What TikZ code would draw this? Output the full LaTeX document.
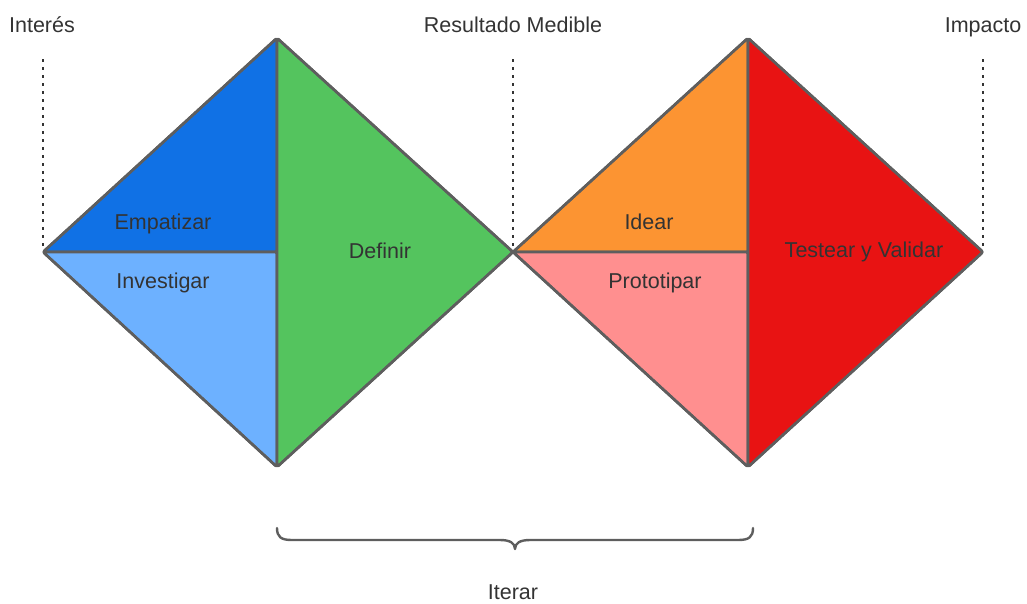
\documentclass[tikz,border=0pt]{standalone}
\usepackage{fontspec}
\setmainfont{Liberation Sans}
\definecolor{edgegray}{HTML}{5E5E5E}
\definecolor{textgray}{HTML}{333333}
\definecolor{empblue}{HTML}{1071E5}
\definecolor{invblue}{HTML}{6DB1FF}
\definecolor{defgreen}{HTML}{54C45E}
\definecolor{ideorange}{HTML}{FC9432}
\definecolor{propink}{HTML}{FF8F8F}
\definecolor{tesred}{HTML}{E81313}
\tikzset{
	piece/.style={draw=edgegray, line width=2.6pt, line join=round, rounded corners=2pt},
	lbl/.style={text=textgray, font=\fontsize{21.5}{25}\selectfont, inner sep=0pt, anchor=base},
	marker/.style={draw=textgray, line width=2.8pt, dash pattern=on 2.8pt off 5.2pt}
}
\begin{document}
\begin{tikzpicture}[x=1pt, y=-1pt]
		\useasboundingbox (0,0) rectangle (1027,603);

		% Corners of both diamonds
		\coordinate (L) at (43,252);
		\coordinate (LT) at (277,38);
		\coordinate (LC) at (277,252);
		\coordinate (LB) at (277,467);
		\coordinate (M) at (513,252);
		\coordinate (RT) at (748,38);
		\coordinate (RC) at (748,252);
		\coordinate (RB) at (748,467);
		\coordinate (R) at (983,252);

		% Dotted markers
		\foreach \x in {43, 513, 983} {
				\draw[marker] (\x,59) -- (\x,249);
			}

		% Left diamond
		\fill[piece, fill=empblue] (L) -- (LT) -- (LC) -- cycle;
		\fill[piece, fill=invblue] (L) -- (LC) -- (LB) -- cycle;
		\fill[piece, fill=defgreen] (LT) -- (M) -- (LB) -- cycle;
		\draw[piece] (L) -- (LT) -- (M) -- (LB) -- cycle;
		\draw[piece] (L) -- (LC);
		\draw[piece] (LT) -- (LB);

		% Right diamond
		\fill[piece, fill=ideorange] (M) -- (RT) -- (RC) -- cycle;
		\fill[piece, fill=propink] (M) -- (RC) -- (RB) -- cycle;
		\fill[piece, fill=tesred] (RT) -- (R) -- (RB) -- cycle;
		\draw[piece] (M) -- (RT) -- (R) -- (RB) -- cycle;
		\draw[piece] (M) -- (RC);
		\draw[piece] (RT) -- (RB);

		% Phase labels
		\node[lbl] (empatizar) at (163,229) {Empatizar};
		\node[lbl] (investigar) at (163,288) {Investigar};
		\node[lbl] (definir) at (380,258) {Definir};
		\node[lbl] (idear) at (649,229) {Idear};
		\node[lbl] (prototipar) at (655,288) {Prototipar};
		\node[lbl] (testear) at (864,257) {Testear y Validar};

		% Top labels
		\node[lbl] (interes) at (42,32) {Interés};
		\node[lbl] (resultado) at (513,32) {Resultado Medible};
		\node[lbl] (impacto) at (983,32) {Impacto};

		% Brace
		\draw[draw=edgegray, line width=2.4pt, line cap=round, line join=round]
			(277,528) .. controls (277,537) and (281,540) .. (292,540) -- (500,540)
			.. controls (510,540) and (515,543) .. (515,549)
			.. controls (515,543) and (520,540) .. (530,540) -- (738,540)
			.. controls (749,540) and (753,537) .. (753,528);
		\node[lbl] (iterar) at (513,599) {Iterar};
	\end{tikzpicture}
\end{document}
